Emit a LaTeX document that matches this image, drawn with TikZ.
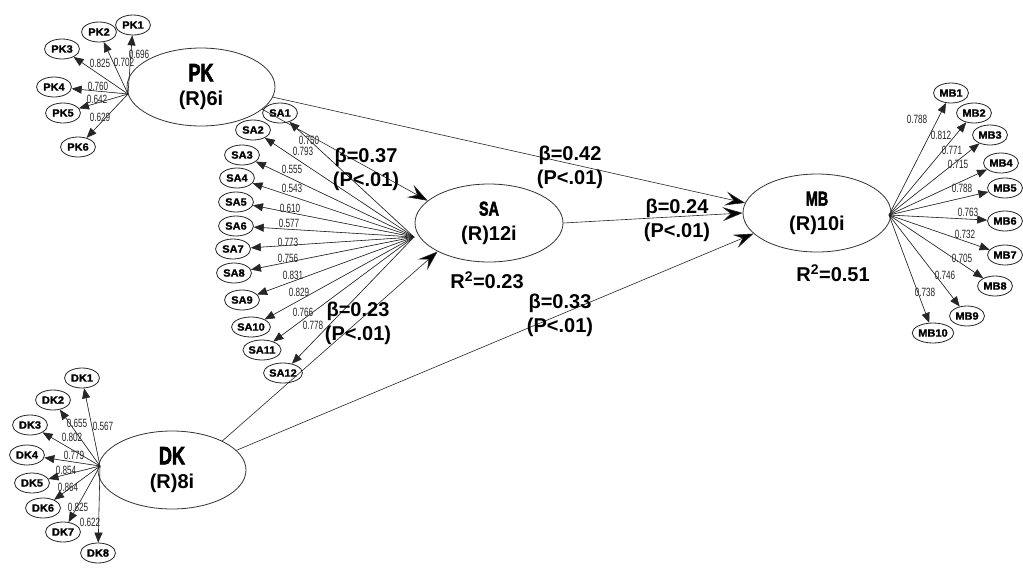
\documentclass[tikz,border=0pt]{standalone}
\usepackage{graphicx}
\usepackage{fontspec}
\setmainfont{Liberation Sans}
\newfontfamily\narrowf[FakeStretch=0.68]{Liberation Sans}
\newfontfamily\heavyf[FakeBold=3]{Liberation Sans}
\newfontfamily\indf[FakeBold=1.5,FakeStretch=1.05]{Liberation Sans}
\newcommand\latname[2]{\scalebox{0.72}[1]{\heavyf\bfseries\fontsize{#1}{#1}\selectfont #2}}
\usetikzlibrary{arrows.meta,shapes.geometric}
\begin{document}
\begin{tikzpicture}[x=1pt,y=-1pt,
  lat/.style={ellipse,draw=black!80,line width=0.8pt,minimum width=148pt,minimum height=78pt,inner sep=0pt,align=center},
  ind/.style={ellipse,draw=black!85,line width=0.8pt,minimum width=35pt,minimum height=20pt,inner sep=0pt,font=\indf\bfseries\fontsize{10.5}{10.5}\selectfont},
  load/.style={font=\narrowf\fontsize{12}{12}\selectfont,inner sep=0pt,text=black!85},
  ia/.style={-{Triangle[length=10pt,width=8pt]},line width=0.6pt,draw=black!85,fill=black},
  sarr/.style={-{Stealth[length=20pt,width=14pt,inset=8pt,fill=black]},line width=0.6pt,draw=black!85},
  beta/.style={font=\bfseries\fontsize{20}{24}\selectfont,align=center,inner sep=0pt,text=black}]
\useasboundingbox (0,0) rectangle (1023,568);
\fill[white] (0,0) rectangle (1023,568);

% latent variables
\node[lat] (PK) at (201,87) {\latname{25}{PK}\\[9pt]{\bfseries\fontsize{20}{20}\selectfont (R)6i}};
\node[lat] (SA) at (489,223) {\latname{20}{SA}\\[9pt]{\bfseries\fontsize{20}{20}\selectfont (R)12i}};
\node[lat] (MB) at (817,213) {\latname{20}{MB}\\[9pt]{\bfseries\fontsize{20}{20}\selectfont (R)10i}};
\node[lat] (DK) at (172,470) {\latname{25}{DK}\\[9pt]{\bfseries\fontsize{20}{20}\selectfont (R)8i}};

% hubs
\coordinate (pkh) at (128,94);
\coordinate (sah) at (414,237);
\coordinate (dkh) at (100,466);
\coordinate (mbh) at (889,215);

% PK indicators
\node[ind] (PK1) at (133,25) {PK1};
\node[ind] (PK2) at (99,32) {PK2};
\node[ind] (PK3) at (62,49) {PK3};
\node[ind] (PK4) at (54,87) {PK4};
\node[ind] (PK5) at (63,113) {PK5};
\node[ind] (PK6) at (78,147) {PK6};
\foreach \i in {1,...,6} {\draw[ia] (pkh) -- (PK\i);}
\node[load] (lpk1) at (139,54) {0.696};
\node[load] (lpk2) at (124,62) {0.702};
\node[load] (lpk3) at (100,63) {0.825};
\node[load] (lpk4) at (98,86) {0.760};
\node[load] (lpk5) at (97,99) {0.642};
\node[load] (lpk6) at (100,117) {0.629};

% SA indicators
\node[ind] (SA1) at (280,113) {SA1};
\node[ind] (SA2) at (253,130) {SA2};
\node[ind] (SA3) at (242,155) {SA3};
\node[ind] (SA4) at (237,178) {SA4};
\node[ind] (SA5) at (236,202) {SA5};
\node[ind] (SA6) at (236,226) {SA6};
\node[ind] (SA7) at (233,249) {SA7};
\node[ind] (SA8) at (234,273) {SA8};
\node[ind] (SA9) at (242,300) {SA9};
\node[ind] (SA10) at (251,327) {SA10};
\node[ind] (SA11) at (262,350) {SA11};
\node[ind] (SA12) at (283,373) {SA12};
\foreach \i in {1,...,12} {\draw[ia] (sah) -- (SA\i);}
\node[load] (lsa1) at (309,140) {0.750};
\node[load] (lsa2) at (303,151) {0.793};
\node[load] (lsa3) at (292,169) {0.555};
\node[load] (lsa4) at (292,188) {0.543};
\node[load] (lsa5) at (290,208) {0.610};
\node[load] (lsa6) at (289,223) {0.577};
\node[load] (lsa7) at (288,242) {0.773};
\node[load] (lsa8) at (288,258) {0.756};
\node[load] (lsa9) at (293,275) {0.831};
\node[load] (lsa10) at (299,292) {0.829};
\node[load] (lsa11) at (303,312) {0.766};
\node[load] (lsa12) at (313,325) {0.778};

% DK indicators
\node[ind] (DK1) at (82,378) {DK1};
\node[ind] (DK2) at (53,400) {DK2};
\node[ind] (DK3) at (30,425) {DK3};
\node[ind] (DK4) at (27,455) {DK4};
\node[ind] (DK5) at (32,483) {DK5};
\node[ind] (DK6) at (43,508) {DK6};
\node[ind] (DK7) at (63,532) {DK7};
\node[ind] (DK8) at (98,553) {DK8};
\foreach \i in {1,...,8} {\draw[ia] (dkh) -- (DK\i);}
\node[load] (ldk2) at (77,423) {0.655};
\node[load] (ldk1) at (103,426) {0.567};
\node[load] (ldk3) at (72,437) {0.802};
\node[load] (ldk4) at (74,455) {0.779};
\node[load] (ldk5) at (66,470) {0.854};
\node[load] (ldk6) at (68,487) {0.864};
\node[load] (ldk7) at (78,507) {0.825};
\node[load] (ldk8) at (90,522) {0.622};

% MB indicators
\node[ind] (MB1) at (951,93) {MB1};
\node[ind] (MB2) at (974,113) {MB2};
\node[ind] (MB3) at (990,135) {MB3};
\node[ind] (MB4) at (1001,163) {MB4};
\node[ind] (MB5) at (1005,188) {MB5};
\node[ind] (MB6) at (1005,221) {MB6};
\node[ind] (MB7) at (1005,255) {MB7};
\node[ind] (MB8) at (995,286) {MB8};
\node[ind] (MB9) at (967,316) {MB9};
\node[ind] (MB10) at (933,333) {MB10};
\foreach \i in {1,...,10} {\draw[ia] (mbh) -- (MB\i);}
\node[load] (lmb1) at (917,119) {0.788};
\node[load] (lmb2) at (941,135) {0.812};
\node[load] (lmb3) at (952,150) {0.771};
\node[load] (lmb4) at (958,164) {0.715};
\node[load] (lmb5) at (962,188) {0.788};
\node[load] (lmb6) at (968,212) {0.763};
\node[load] (lmb7) at (965,234) {0.732};
\node[load] (lmb8) at (962,258) {0.705};
\node[load] (lmb9) at (945,275) {0.746};
\node[load] (lmb10) at (925,292) {0.738};

% structural paths
\draw[sarr] (PK.-20) -- (SA.160);
\draw[sarr] (PK.-8) -- (MB.172);
\draw[sarr] (SA.east) -- (MB.west);
\draw[sarr] (DK.30) -- (SA.209);
\draw[sarr] (DK.17) -- (MB.198);

% path labels
\node[beta] (b1) at (366,169) {β=0.37\\(P<.01)};
\node[beta] (b2) at (570,167) {β=0.42\\(P<.01)};
\node[beta] (b3) at (677,220) {β=0.24\\(P<.01)};
\node[beta] (b4) at (560,315) {β=0.33\\(P<.01)};
\node[beta] (b5) at (358,323) {β=0.23\\(P<.01)};
\node[beta] (r1) at (487,280) {R\textsuperscript{2}=0.23};
\node[beta] (r2) at (833,273) {R\textsuperscript{2}=0.51};
\end{tikzpicture}
\end{document}
